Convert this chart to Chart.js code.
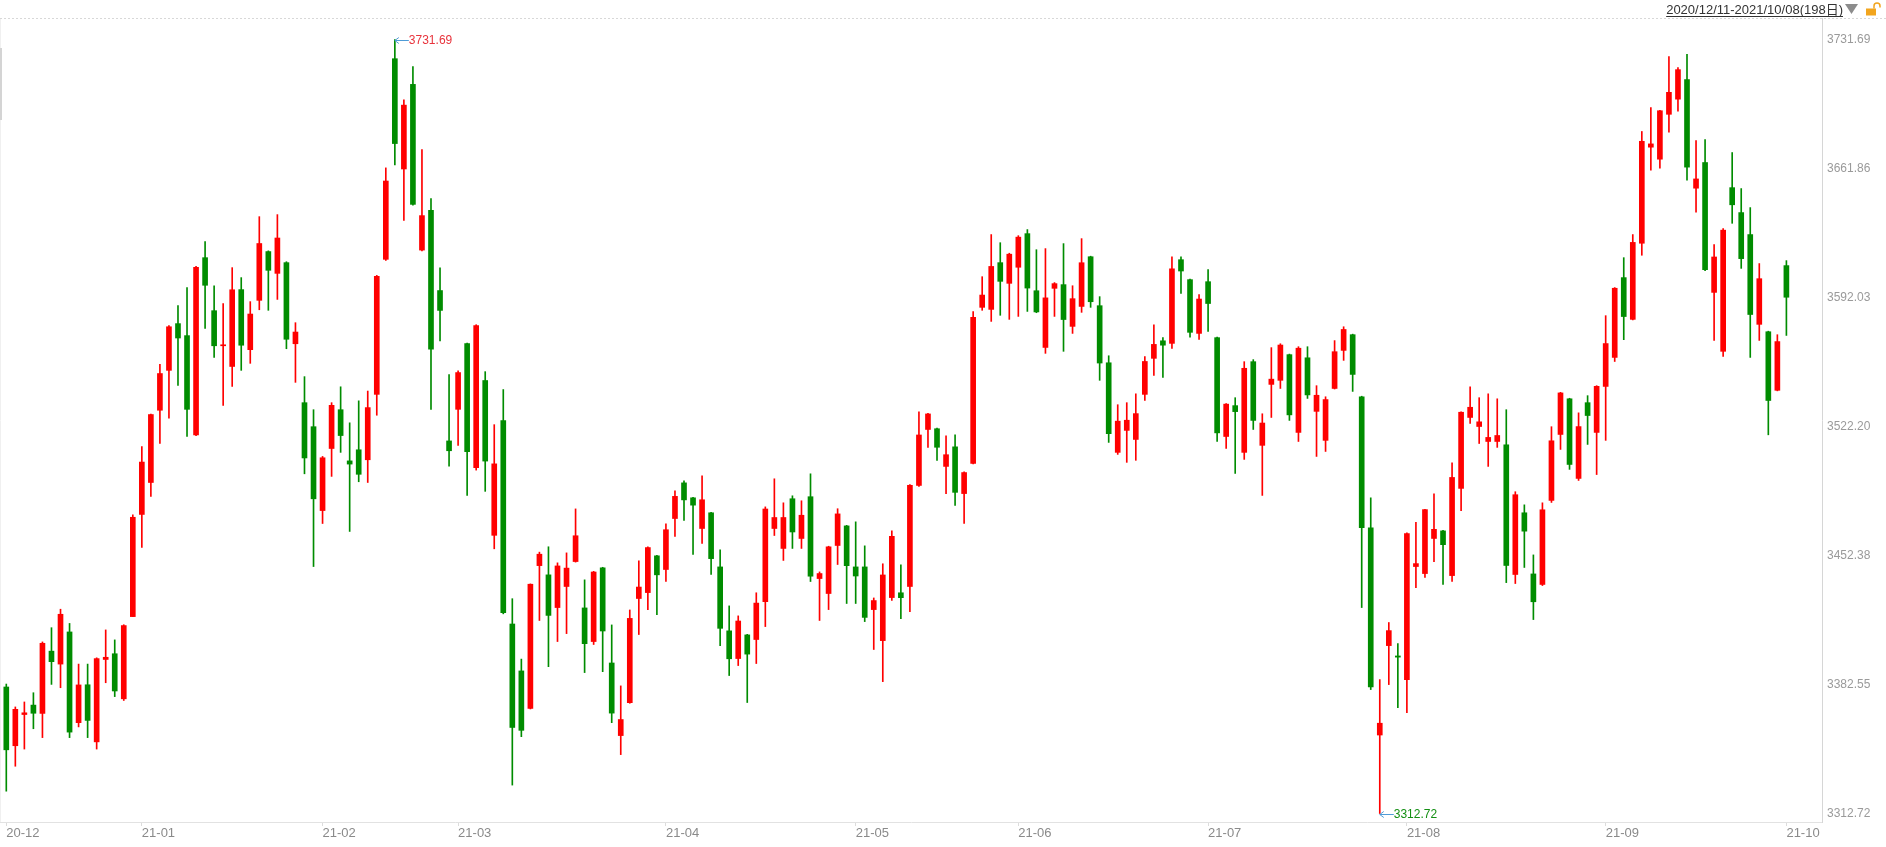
<!DOCTYPE html>
<html>
<head>
<meta charset="utf-8">
<script src="https://cdn.jsdelivr.net/npm/chart.js@4.4.0/dist/chart.umd.min.js"></script>
<style>
  html, body { margin: 0; padding: 0; background: #fff; }
  #wrap { width: 1886px; height: 847px; position: relative; }
</style>
</head>
<body>
<div id="wrap"><canvas id="Chart"></canvas></div>
<script>
// trading days, 2020/12/11 - 2021/10/08
const dates = [
  '2020-12-11','2020-12-14','2020-12-15','2020-12-16','2020-12-17','2020-12-18','2020-12-21','2020-12-22','2020-12-23','2020-12-24','2020-12-25','2020-12-28','2020-12-29','2020-12-30','2020-12-31',
  '2021-01-04','2021-01-05','2021-01-06','2021-01-07','2021-01-08','2021-01-11','2021-01-12','2021-01-13','2021-01-14','2021-01-15','2021-01-18','2021-01-19','2021-01-20','2021-01-21','2021-01-22','2021-01-25','2021-01-26','2021-01-27','2021-01-28','2021-01-29',
  '2021-02-01','2021-02-02','2021-02-03','2021-02-04','2021-02-05','2021-02-08','2021-02-09','2021-02-10','2021-02-18','2021-02-19','2021-02-22','2021-02-23','2021-02-24','2021-02-25','2021-02-26',
  '2021-03-01','2021-03-02','2021-03-03','2021-03-04','2021-03-05','2021-03-08','2021-03-09','2021-03-10','2021-03-11','2021-03-12','2021-03-15','2021-03-16','2021-03-17','2021-03-18','2021-03-19','2021-03-22','2021-03-23','2021-03-24','2021-03-25','2021-03-26','2021-03-29','2021-03-30','2021-03-31',
  '2021-04-01','2021-04-02','2021-04-06','2021-04-07','2021-04-08','2021-04-09','2021-04-12','2021-04-13','2021-04-14','2021-04-15','2021-04-16','2021-04-19','2021-04-20','2021-04-21','2021-04-22','2021-04-23','2021-04-26','2021-04-27','2021-04-28','2021-04-29','2021-04-30',
  '2021-05-06','2021-05-07','2021-05-10','2021-05-11','2021-05-12','2021-05-13','2021-05-14','2021-05-17','2021-05-18','2021-05-19','2021-05-20','2021-05-21','2021-05-24','2021-05-25','2021-05-26','2021-05-27','2021-05-28','2021-05-31',
  '2021-06-01','2021-06-02','2021-06-03','2021-06-04','2021-06-07','2021-06-08','2021-06-09','2021-06-10','2021-06-11','2021-06-15','2021-06-16','2021-06-17','2021-06-18','2021-06-21','2021-06-22','2021-06-23','2021-06-24','2021-06-25','2021-06-28','2021-06-29','2021-06-30',
  '2021-07-01','2021-07-02','2021-07-05','2021-07-06','2021-07-07','2021-07-08','2021-07-09','2021-07-12','2021-07-13','2021-07-14','2021-07-15','2021-07-16','2021-07-19','2021-07-20','2021-07-21','2021-07-22','2021-07-23','2021-07-26','2021-07-27','2021-07-28','2021-07-29','2021-07-30',
  '2021-08-02','2021-08-03','2021-08-04','2021-08-05','2021-08-06','2021-08-09','2021-08-10','2021-08-11','2021-08-12','2021-08-13','2021-08-16','2021-08-17','2021-08-18','2021-08-19','2021-08-20','2021-08-23','2021-08-24','2021-08-25','2021-08-26','2021-08-27','2021-08-30','2021-08-31',
  '2021-09-01','2021-09-02','2021-09-03','2021-09-06','2021-09-07','2021-09-08','2021-09-09','2021-09-10','2021-09-13','2021-09-14','2021-09-15','2021-09-16','2021-09-17','2021-09-22','2021-09-23','2021-09-24','2021-09-27','2021-09-28','2021-09-29','2021-09-30',
  '2021-10-08'
];

const openPx = [
  3381.2,3349.4,3366.3,3371.4,3366.9,3400.6,3393.6,3411.0,3361.9,3382.4,3351.5,3396.1,3399.2,3374.8,3419.3,
  3474.6,3491.9,3531.0,3552.6,3577.9,3571.4,3517.7,3613.6,3584.9,3565.9,3554.7,3596.3,3563.8,3590.5,3616.9,3605.1,3610.9,3567.0,3535.1,3522.1,
  3476.7,3510.3,3531.3,3503.6,3509.6,3504.2,3539.6,3612.7,3721.3,3661.6,3707.4,3617.7,3639.2,3595.8,3514.4,
  3531.5,3567.1,3499.9,3547.1,3463.3,3525.4,3415.3,3389.9,3369.6,3446.9,3441.9,3424.2,3435.6,3449.1,3424.0,3405.8,3445.7,3394.2,3354.9,3372.7,3429.1,3432.3,3452.2,
  3444.8,3472.4,3491.7,3483.6,3467.0,3475.5,3446.2,3411.6,3396.6,3409.4,3406.9,3427.4,3467.0,3456.2,3483.1,3461.6,3484.2,3439.9,3431.8,3457.8,3468.4,
  3446.2,3446.2,3423.1,3406.3,3429.6,3432.2,3435.6,3490.3,3520.6,3521.0,3500.6,3511.2,3485.9,3502.2,3586.7,3585.6,3610.9,3599.7,
  3608.4,3626.6,3595.7,3565.0,3597.0,3599.0,3576.4,3587.2,3614.1,3587.6,3556.7,3508.2,3520.1,3515.2,3539.6,3559.1,3568.6,3567.2,3612.5,3601.7,3572.6,
  3600.6,3570.3,3516.8,3533.5,3508.2,3557.3,3512.0,3545.0,3547.2,3561.1,3519.0,3559.4,3530.4,3514.7,3542.8,3563.4,3571.9,3538.3,3467.4,3355.2,3403.6,3398.0,
  3385.2,3446.4,3442.6,3461.6,3465.7,3441.5,3488.7,3527.1,3522.2,3514.1,3514.1,3512.3,3442.1,3475.5,3442.4,3436.7,3482.2,3517.9,3537.2,3494.1,3535.1,3519.0,
  3543.9,3559.6,3602.8,3580.2,3621.4,3673.4,3666.9,3691.2,3699.4,3710.0,3651.2,3665.1,3594.8,3562.9,3651.5,3638.0,3626.1,3577.5,3573.5,3541.8,
  3609.3
];

const highPx = [
  3382.8,3370.4,3373.1,3378.1,3405.6,3413.3,3423.3,3415.6,3393.6,3393.6,3397.0,3412.1,3406.7,3414.9,3474.4,
  3511.3,3528.9,3555.9,3576.9,3587.6,3597.4,3608.9,3622.3,3598.4,3588.7,3608.2,3602.8,3589.8,3635.8,3617.3,3636.9,3611.4,3578.4,3549.2,3531.3,
  3506.0,3535.1,3543.7,3524.2,3536.1,3541.4,3604.0,3662.2,3731.69,3699.1,3717.1,3672.1,3645.6,3608.1,3550.3,
  3552.4,3567.4,3577.3,3551.9,3523.2,3542.2,3429.0,3396.3,3437.0,3454.2,3457.1,3448.4,3453.8,3477.6,3439.2,3443.8,3446.0,3414.8,3381.8,3422.9,3449.5,3457.1,3452.5,
  3469.5,3487.4,3492.8,3483.9,3495.5,3475.8,3455.4,3425.1,3419.7,3409.7,3432.2,3478.7,3493.9,3480.9,3484.7,3482.0,3496.6,3443.5,3457.4,3477.7,3468.7,
  3470.6,3457.6,3429.4,3447.9,3465.7,3447.3,3490.7,3530.2,3529.3,3521.3,3517.2,3517.7,3497.7,3584.4,3603.3,3626.1,3621.7,3616.0,
  3625.5,3628.8,3617.9,3618.5,3600.1,3621.2,3598.4,3623.9,3614.4,3592.5,3560.5,3534.0,3535.1,3539.9,3560.0,3577.3,3570.3,3614.1,3614.1,3602.0,3593.6,
  3607.1,3570.6,3534.6,3537.8,3557.3,3558.4,3529.1,3564.9,3567.0,3561.4,3565.4,3565.4,3544.3,3538.3,3568.7,3576.2,3572.2,3538.6,3483.6,3385.2,3416.1,3404.7,
  3464.7,3470.3,3477.4,3485.8,3466.0,3502.6,3530.2,3543.7,3537.8,3539.9,3537.2,3531.3,3486.9,3479.8,3452.7,3480.9,3522.1,3540.7,3537.5,3529.6,3538.9,3544.3,
  3582.2,3597.4,3613.6,3626.1,3681.9,3694.9,3693.4,3722.5,3716.5,3723.6,3677.0,3677.5,3620.7,3629.3,3670.5,3651.0,3640.7,3610.4,3573.8,3571.9,
  3612.0
];

const lowPx = [
  3324.8,3338.3,3347.6,3358.6,3353.8,3382.6,3380.8,3353.8,3359.6,3353.8,3347.6,3383.5,3376.0,3373.9,3419.3,
  3456.8,3484.4,3513.0,3526.7,3544.5,3516.8,3517.2,3575.3,3559.6,3533.6,3543.9,3552.6,3556.4,3585.4,3585.1,3591.0,3564.3,3546.1,3496.6,3446.4,
  3469.7,3495.2,3508.2,3465.4,3492.3,3491.9,3528.3,3612.1,3663.8,3633.8,3642.0,3617.3,3531.5,3568.5,3500.7,
  3512.0,3484.9,3498.6,3487.1,3456.0,3420.8,3328.1,3354.3,3369.3,3417.2,3392.2,3405.8,3410.1,3448.8,3389.0,3404.2,3389.5,3361.9,3344.6,3372.4,3409.6,3423.1,3420.4,
  3438.3,3462.7,3471.3,3452.9,3458.9,3442.1,3403.6,3387.4,3392.8,3372.8,3393.9,3413.9,3463.2,3449.7,3456.2,3456.2,3438.3,3417.2,3423.1,3447.5,3426.4,
  3426.4,3416.6,3401.5,3384.1,3428.0,3418.2,3422.0,3489.8,3510.9,3503.9,3485.9,3479.5,3469.7,3501.9,3585.1,3579.1,3582.4,3580.2,
  3581.8,3584.5,3583.8,3561.8,3581.8,3562.9,3572.6,3584.0,3586.7,3547.2,3513.6,3507.1,3502.8,3503.9,3536.3,3549.9,3548.8,3564.5,3594.3,3570.5,3569.4,
  3573.7,3514.1,3510.3,3496.8,3504.4,3520.6,3484.9,3527.1,3542.8,3525.5,3514.1,3537.4,3506.0,3508.7,3542.5,3558.0,3541.2,3424.2,3379.8,3312.72,3382.5,3370.0,
  3367.3,3435.0,3440.5,3449.1,3436.7,3438.3,3476.7,3523.9,3513.0,3500.6,3510.9,3437.7,3437.2,3445.9,3417.7,3436.1,3481.1,3509.8,3499.0,3493.0,3512.5,3496.2,
  3514.7,3557.4,3569.2,3579.9,3614.9,3660.9,3662.0,3681.5,3692.9,3655.5,3638.2,3606.5,3568.8,3560.2,3632.2,3607.8,3559.6,3568.8,3517.7,3541.5,
  3571.5
];

const closePx = [
  3347.19,3369.12,3367.23,3366.98,3404.87,3394.90,3420.57,3356.78,3382.32,3363.11,3396.56,3397.29,3379.04,3414.45,3473.07,
  3502.96,3528.68,3550.88,3576.20,3570.11,3531.50,3608.34,3598.65,3565.90,3566.38,3596.22,3566.19,3583.09,3621.26,3606.75,3624.24,3569.43,3573.34,3505.18,3483.07,
  3505.28,3533.68,3517.31,3501.86,3496.33,3532.44,3603.49,3655.09,3675.36,3696.17,3642.44,3636.36,3564.08,3585.05,3509.08,
  3551.40,3508.59,3576.90,3503.49,3501.99,3421.41,3359.29,3357.74,3436.83,3453.08,3419.95,3446.73,3445.55,3463.07,3404.66,3443.44,3411.51,3367.06,3363.59,3418.33,3435.30,3456.68,3441.91,
  3466.33,3484.39,3482.48,3479.63,3482.55,3450.68,3412.95,3396.47,3416.92,3398.99,3426.62,3477.55,3472.94,3472.95,3465.11,3474.17,3441.17,3442.61,3457.07,3474.90,3446.86,
  3441.28,3418.87,3427.99,3441.85,3462.75,3429.54,3490.38,3517.62,3529.01,3510.96,3506.94,3486.56,3497.28,3581.34,3593.36,3608.85,3600.78,3615.48,
  3624.71,3597.14,3584.22,3591.84,3599.54,3580.11,3591.40,3610.86,3589.75,3556.56,3518.33,3525.10,3525.60,3529.18,3557.41,3566.65,3566.22,3607.56,3606.37,3573.18,3591.20,
  3588.78,3518.76,3534.32,3530.26,3553.72,3525.50,3524.09,3547.84,3566.30,3528.50,3564.59,3539.30,3539.12,3536.79,3562.70,3574.73,3550.40,3467.44,3381.18,3361.59,3411.72,3397.36,
  3464.29,3447.99,3477.22,3466.56,3458.23,3494.63,3529.93,3532.62,3524.74,3516.30,3517.34,3446.98,3485.29,3465.55,3427.33,3477.13,3514.47,3540.38,3501.66,3522.16,3528.15,3543.94,
  3567.10,3597.04,3581.73,3621.86,3676.59,3675.19,3693.13,3703.11,3715.37,3662.60,3656.22,3607.09,3613.97,3628.49,3642.22,3613.07,3582.83,3602.22,3536.29,3568.17,
  3592.17
];

// right axis tick values
const yTicks = [3312.72, 3382.55, 3452.38, 3522.20, 3592.03, 3661.86, 3731.69];

const UP = '#ff0000';
const DOWN = '#008c00';
const FONT = '"Liberation Sans", Arial, "Noto Sans CJK SC", sans-serif';

// month labels at first trading day of each month, e.g. 21-01
let xTickIdx = [];
let xTickText = {};
dates.forEach((d, i) => {
  if (i === 0 || d.slice(0, 7) !== dates[i - 1].slice(0, 7)) {
    xTickIdx.push(i);
    xTickText[i] = d.slice(2, 7);
  }
});

const idx = closePx.map((c, i) => i);
const colors = idx.map(i => closePx[i] >= openPx[i] ? UP : DOWN);

let hiIdx = 0, loIdx = 0;
idx.forEach(i => {
  if (highPx[i] > highPx[hiIdx]) hiIdx = i;
  if (lowPx[i] < lowPx[loIdx]) loIdx = i;
});

const rangeText = dates[0].replace(/-/g, '/') + '-' + dates[dates.length - 1].replace(/-/g, '/') + '(' + dates.length + '日)';

const decor = {
  id: 'decor',
  beforeDraw(chart) {
    const c = chart.ctx;
    c.save();
    // dotted top border
    c.strokeStyle = '#d8d8d8';
    c.lineWidth = 1;
    c.setLineDash([2, 2]);
    c.beginPath();
    c.moveTo(0, 18.5);
    c.lineTo(chart.width, 18.5);
    c.stroke();
    c.setLineDash([]);
    // left border + small handle
    c.strokeStyle = '#f0f0f0';
    c.beginPath();
    c.moveTo(0.5, 19);
    c.lineTo(0.5, chart.chartArea.bottom);
    c.stroke();
    c.fillStyle = '#d4d4d4';
    c.fillRect(0, 48, 2, 72);
    c.restore();
  },
  afterDraw(chart) {
    const c = chart.ctx;
    const xs = chart.scales.x, ys = chart.scales.y;
    c.save();

    // date range header
    c.font = '13px ' + FONT;
    c.fillStyle = '#333';
    c.textAlign = 'right';
    c.textBaseline = 'alphabetic';
    c.fillText(rangeText, 1843, 14);
    const w = c.measureText(rangeText).width;
    c.strokeStyle = '#333';
    c.lineWidth = 1;
    c.beginPath();
    c.moveTo(1843 - w, 16.5);
    c.lineTo(1843, 16.5);
    c.stroke();

    // dropdown triangle
    c.fillStyle = '#8c8c8c';
    c.beginPath();
    c.moveTo(1845, 4);
    c.lineTo(1858, 4);
    c.lineTo(1851.5, 14);
    c.closePath();
    c.fill();

    // open lock
    c.fillStyle = '#f2a51e';
    c.fillRect(1866, 8.5, 10, 7);
    c.strokeStyle = '#f2a51e';
    c.lineWidth = 1.5;
    c.beginPath();
    c.moveTo(1874, 8.5);
    c.lineTo(1874, 6);
    c.arc(1877, 6, 3, Math.PI, 0);
    c.lineTo(1880, 7.5);
    c.stroke();

    // high / low markers
    function mark(i, v, color) {
      const px = xs.getPixelForValue(i);
      const py = Math.round(ys.getPixelForValue(v)) + 0.5;
      c.strokeStyle = '#4f9bd6';
      c.lineWidth = 1;
      c.beginPath();
      c.moveTo(px, py);
      c.lineTo(px + 14, py);
      c.moveTo(px + 4, py - 3);
      c.lineTo(px, py);
      c.lineTo(px + 4, py + 3);
      c.stroke();
      c.font = '12px ' + FONT;
      c.fillStyle = color;
      c.textAlign = 'left';
      c.textBaseline = 'middle';
      c.fillText(v.toFixed(2), px + 14, py);
    }
    mark(hiIdx, highPx[hiIdx], '#e8333c');
    mark(loIdx, lowPx[loIdx], '#138f13');
    c.restore();
  }
};

const ctx = document.getElementById('Chart').getContext('2d');
const myChart = new Chart(ctx, {
  type: 'bar',
  data: {
    datasets: [{
      label: 'body',
      data: idx.map(i => ({ x: i, y: [openPx[i], closePx[i]] })),
      backgroundColor: colors,
      borderWidth: 0,
      barThickness: 5,
      minBarLength: 1,
      grouped: false,
      order: 1
    }, {
      label: 'wick',
      data: idx.map(i => ({ x: i, y: [lowPx[i], highPx[i]] })),
      backgroundColor: colors,
      borderWidth: 0,
      barThickness: 1,
      grouped: false,
      order: 2
    }]
  },
  options: {
    responsive: true,
    maintainAspectRatio: false,
    animation: false,
    events: [],
    layout: { padding: { top: 18, left: 0, right: 0, bottom: 0 } },
    plugins: {
      legend: { display: false },
      tooltip: { enabled: false }
    },
    scales: {
      x: {
        type: 'linear',
        min: -0.697,
        max: 200.94,
        offset: false,
        grid: { display: true, offset: false, drawOnChartArea: false, drawTicks: true, tickLength: 4, color: '#dcdcdc' },
        border: { display: true, color: '#e2e2e2' },
        ticks: {
          autoSkip: false,
          maxRotation: 0,
          align: 'start',
          padding: 0,
          color: '#8a8a8a',
          font: { family: FONT, size: 13 },
          callback: v => xTickText[v] || ''
        },
        afterBuildTicks: s => { s.ticks = xTickIdx.map(v => ({ value: v })); },
        afterFit: s => { s.height = 25; s.paddingLeft = 0; s.paddingRight = 0; }
      },
      y: {
        position: 'right',
        min: 3308.12,
        max: 3743.33,
        grid: { display: false, drawTicks: false },
        border: { display: true, color: '#d6d6d6', dash: [2, 2] },
        ticks: {
          padding: 5,
          color: '#9a9a9a',
          font: { family: FONT, size: 12 },
          callback: v => Number(v).toFixed(2)
        },
        afterBuildTicks: s => { s.ticks = yTicks.map(v => ({ value: v })); },
        afterFit: s => { s.width = 64; }
      }
    }
  },
  plugins: [decor]
});
</script>
</body>
</html>
